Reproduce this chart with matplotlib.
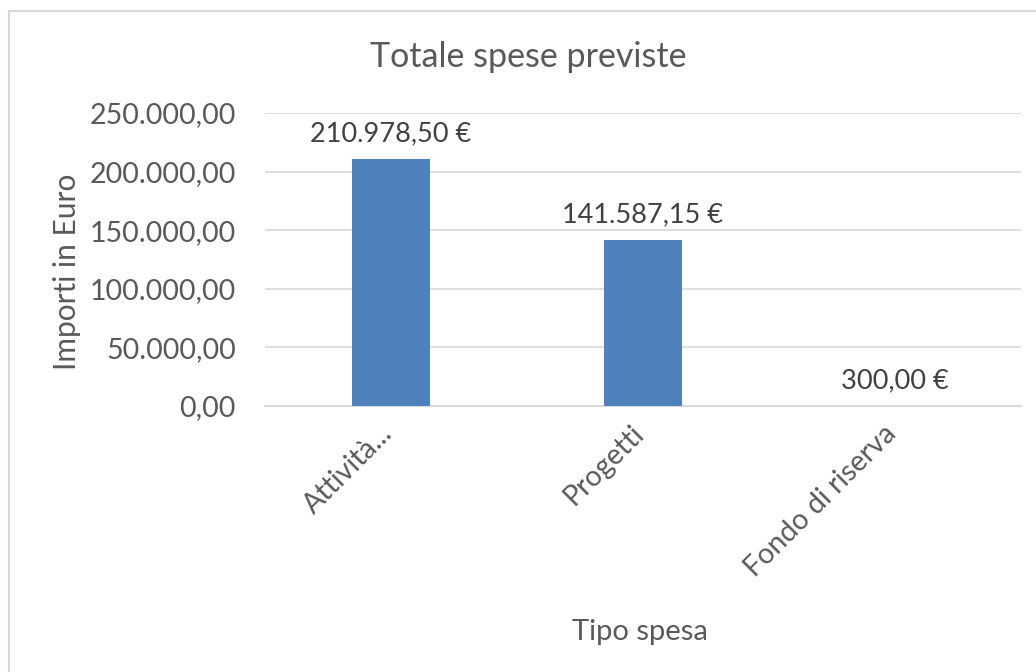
import matplotlib
matplotlib.use("Agg")
from matplotlib import pyplot as plt
from matplotlib.patches import Rectangle
from matplotlib.ticker import FuncFormatter
from matplotlib.transforms import ScaledTranslation

# data
categories = ["Attività...", "Progetti", "Fondo di riserva"]
values = [210978.50, 141587.15, 300.00]
y_ticks = [0, 50000, 100000, 150000, 200000, 250000]

plt.rcParams['font.family'] = ['Lato', 'DejaVu Sans']

BAR_COLOR = "#4F81BD"
TEXT_COLOR = "#595959"
LABEL_COLOR = "#404040"
GRID_COLOR = "#D9D9D9"
W, H = 1036, 672


def it_number(v, decimals=2):
	"""Formats a number the Italian way: 210.978,50"""
	s = f"{v:,.{decimals}f}"
	return s.replace(",", "X").replace(".", ",").replace("X", ".")


fig = plt.figure(figsize=(W / 100, H / 100), dpi=100)
# chart frame, open to the right and bottom like the cropped original
fig.patches.append(Rectangle((9 / W, -0.1), 1.2, 1.1 - 11 / H,
	transform=fig.transFigure, fill=False, edgecolor=GRID_COLOR, linewidth=1.5))

ax = fig.add_axes([265 / W, 1 - 406 / H, 756 / W, 293 / H])

x = list(range(len(categories)))
ax.bar(x, values, width=0.31, color=BAR_COLOR, zorder=3)

for i, v in enumerate(values):
	ax.annotate(it_number(v) + " €", (i, v), xytext=(0, 9), textcoords="offset points",
		ha="center", va="bottom", fontsize=19.5, color=LABEL_COLOR)

ax.set_xlim(-0.5, len(categories) - 0.5)
ax.set_ylim(0, 250000)
ax.set_yticks(y_ticks)
ax.yaxis.set_major_formatter(FuncFormatter(lambda v, p: it_number(v)))
ax.grid(axis="y", color=GRID_COLOR, linewidth=1.2, zorder=0)

for side in ["top", "right", "left"]:
	ax.spines[side].set_visible(False)
ax.spines["bottom"].set_color(GRID_COLOR)
ax.spines["bottom"].set_linewidth(1.5)

ax.tick_params(axis="both", length=0, labelsize=20.5, labelcolor=TEXT_COLOR)
ax.tick_params(axis="y", pad=21)
ax.set_xticks(x)
ax.set_xticklabels(categories, rotation=45, ha="right", va="center", rotation_mode="anchor")
ax.tick_params(axis="x", pad=17)
shift = ScaledTranslation(-3 / 100, 0, fig.dpi_scale_trans)
for lab in ax.get_xticklabels():
	lab.set_transform(lab.get_transform() + shift)

ax.set_ylabel("Importi in Euro", fontsize=21.5, color=TEXT_COLOR)
ax.yaxis.set_label_coords((67 - 265) / 756, (406 - 272) / 293)
ax.yaxis.label.set_va("center")
ax.set_xlabel("Tipo spesa", fontsize=21, color=TEXT_COLOR)
ax.xaxis.set_label_coords((640 - 265) / 756, -(632 - 406) / 293)
ax.xaxis.label.set_va("center")

fig.text(528 / W, 1 - 57 / H, "Totale spese previste", fontsize=24.5,
	color=TEXT_COLOR, ha="center", va="center")

fig.savefig("out.png", dpi=100)
